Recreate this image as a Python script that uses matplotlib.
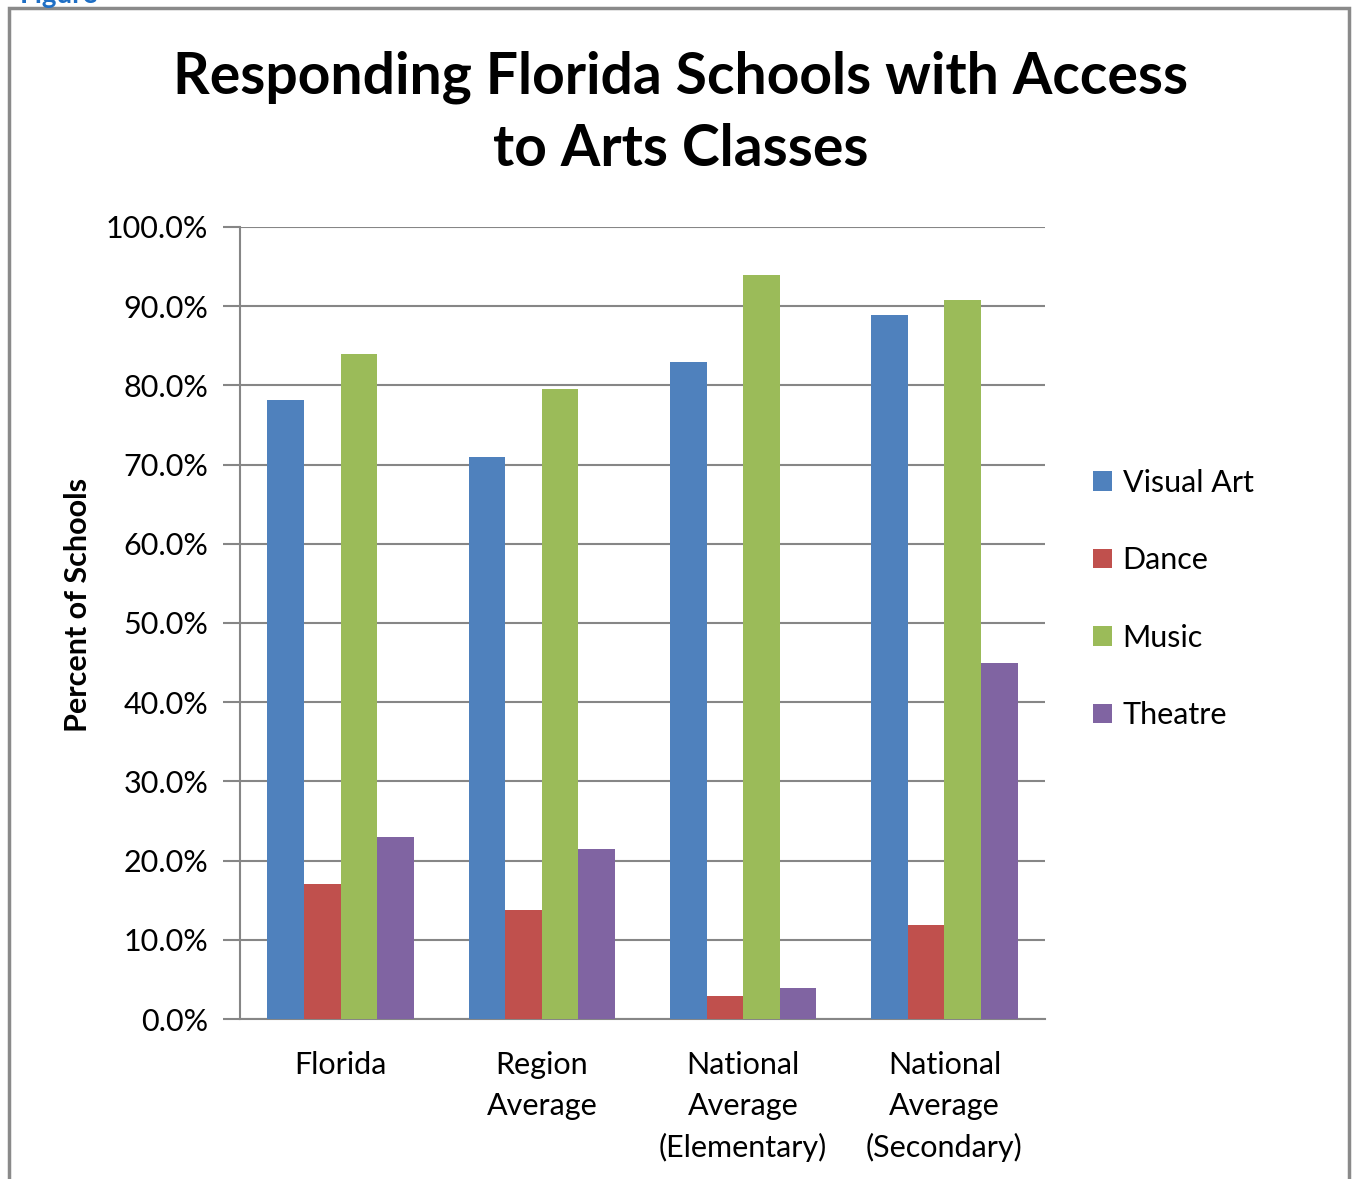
import numpy as np
import matplotlib
matplotlib.use("Agg")
import matplotlib.pyplot as plt
from matplotlib.patches import Rectangle

plt.rcParams["font.family"] = ["Lato", "DejaVu Sans"]

categories = ["Florida", "Region\nAverage", "National\nAverage\n(Elementary)", "National\nAverage\n(Secondary)"]
series_names = ["Visual Art", "Dance", "Music", "Theatre"]
visual_art = [78.2, 71.0, 83.0, 88.9]
dance = [17.0, 13.8, 2.9, 11.9]
music = [84.0, 79.5, 93.9, 90.8]
theatre = [23.0, 21.5, 3.9, 45.0]
colors = ["#4F81BD", "#C0504D", "#9BBB59", "#8064A2"]

values = [visual_art, dance, music, theatre]

fig = plt.figure(figsize=(13.53, 11.79), dpi=100)
ax = fig.add_axes([0.1774, 0.1357, 0.595, 0.6718])

x = np.arange(len(categories))
bar_w = 0.727 / 4
for i, (name, vals) in enumerate(zip(series_names, values)):
    ax.bar(x + (i - 1.5) * bar_w, vals, bar_w, color=colors[i], label=name,
           zorder=3)

ax.set_xlim(-0.5, len(categories) - 0.5)
ax.set_ylim(0, 100)
ax.set_yticks(np.arange(0, 101, 10))
ax.set_yticklabels([f"{v:.1f}%" for v in range(0, 101, 10)], fontsize=22)
ax.set_xticks(x)
ax.set_xticklabels(categories, fontsize=22, linespacing=1.55)
ax.tick_params(axis="x", length=0, pad=23)
ax.tick_params(axis="y", length=12, width=1.5, color="#868686", pad=11)
ax.grid(axis="y", color="#868686", linewidth=1.5, zorder=0)
for side in ["top", "right"]:
    ax.spines[side].set_visible(False)
for side in ["left", "bottom"]:
    ax.spines[side].set_color("#868686")
    ax.spines[side].set_linewidth(1.5)

ax.set_ylabel("Percent of Schools", fontsize=22, fontweight="bold")
ax.yaxis.set_label_coords(-0.184, 0.523)

fig.text(0.503, 0.904, "Responding Florida Schools with Access\nto Arts Classes",
         ha="center", va="center", fontsize=41, fontweight="bold",
         linespacing=1.45)

leg = ax.legend(loc="center left", bbox_to_anchor=(1.026, 0.53), frameon=False,
                fontsize=22, handlelength=0.6, handleheight=0.6,
                handletextpad=0.35, labelspacing=1.62)

# chart frame
fig.patches.append(Rectangle((9 / 1353, -0.05), 1340 / 1353, 1.05 - 8 / 1179,
                             transform=fig.transFigure, fill=False,
                             edgecolor="#8a8a8a", linewidth=2.5))
fig.text(20 / 1353, 1.0 - 3 / 1179, "Figure", color="#1f6fc5", fontsize=20,
         fontweight="bold", ha="left", va="baseline")

fig.savefig("out.png", dpi=100)
